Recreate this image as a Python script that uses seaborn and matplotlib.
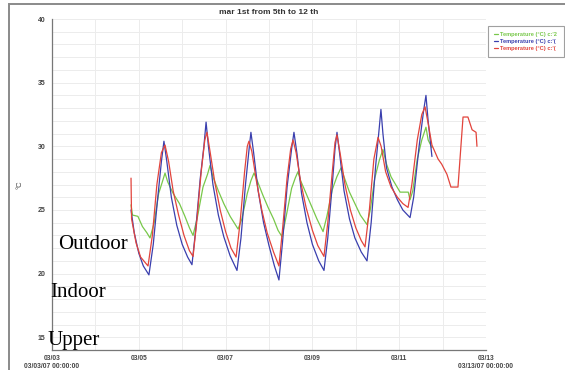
import numpy as np
import pandas as pd
import matplotlib
matplotlib.use("Agg")
import matplotlib.pyplot as plt
from matplotlib.patches import Rectangle
from matplotlib.ticker import MultipleLocator, FixedLocator, FixedFormatter
from matplotlib.lines import Line2D
import seaborn as sns

# Hours since 03/03 00:00 and temperature readings (°C) for each logger
green_hours = [43.7, 44.5, 47.5, 50.0, 52.5, 54.2, 56.5, 59.0, 61.0, 62.5, 64.0, 67.0, 70.5, 73.5,
               76.0, 78.0, 80.5, 83.5, 86.0, 87.4, 89.0, 92.0, 95.0, 98.5, 102.9, 105.0, 108.0,
               110.0, 111.7, 113.5, 116.5, 119.5, 122.5, 125.0, 127.2, 129.5, 132.5, 134.5,
               136.0, 137.5, 140.5, 143.5, 146.5, 149.9, 152.0, 155.0, 157.5, 159.8, 161.5,
               164.5, 167.5, 170.5, 174.2, 176.0, 178.5, 181.0, 183.0, 185.0, 187.5, 190.0,
               192.5, 197.0, 198.0, 199.5, 202.0, 204.5, 206.8, 208.0, 210.1]
green_temp = [25.4, 24.6, 24.5, 23.7, 23.2, 22.8, 24.0, 26.3, 27.2, 27.9, 27.2, 26.3, 25.5, 24.5,
              23.6, 23.0, 24.5, 26.8, 27.8, 28.5, 27.6, 26.5, 25.5, 24.5, 23.5, 24.3, 26.3,
              27.3, 27.9, 27.3, 26.2, 25.2, 24.3, 23.4, 22.9, 24.5, 26.7, 27.5,
              28.0, 27.3, 26.3, 25.3, 24.3, 23.3, 24.5, 26.6, 27.6, 28.3, 27.6,
              26.4, 25.5, 24.6, 23.85, 25.0, 27.5, 28.9, 29.75, 28.6, 27.6, 27.0,
              26.4, 26.4, 25.8, 26.5, 29.0, 30.5, 31.5, 30.5, 29.9]

blue_hours = [43.7, 45.5, 48.0, 50.5, 53.6, 56.0, 58.5, 60.5, 61.9, 63.5, 66.0, 69.0, 72.0, 75.0,
              77.4, 79.5, 82.0, 84.0, 85.2, 86.5, 89.0, 92.0, 95.0, 98.5, 102.3, 104.5, 107.0,
              109.0, 110.0, 111.5, 114.0, 117.0, 120.0, 123.0, 125.5, 127.5, 130.0, 132.5,
              133.8, 135.5, 138.0, 141.0, 144.0, 147.5, 150.4, 152.5, 155.0, 156.5, 157.6,
              159.0, 161.5, 164.5, 167.5, 171.0, 174.2, 176.5, 179.0, 181.0, 181.9, 183.0,
              185.0, 188.0, 191.0, 194.0, 198.0, 200.0, 203.0, 205.5, 206.8, 208.0, 210.1]
blue_temp = [25.0, 23.2, 21.6, 20.6, 19.9, 22.3, 26.0, 28.8, 30.4, 28.8, 26.0, 23.8, 22.3, 21.3,
             20.7, 23.5, 27.5, 30.0, 31.9, 30.0, 27.0, 24.6, 22.9, 21.4, 20.25, 22.8, 27.0,
             29.8, 31.1, 29.5, 26.5, 24.0, 22.2, 20.6, 19.5, 22.5, 26.8, 29.8,
             31.1, 29.4, 26.3, 24.0, 22.3, 21.0, 20.25, 22.8, 27.0, 29.8, 31.1,
             29.5, 26.5, 24.3, 22.8, 21.7, 21.0, 24.0, 28.5, 31.5, 32.9, 31.0,
             28.3, 26.8, 25.8, 25.0, 24.4, 26.0, 30.0, 32.8, 34.0, 32.0, 29.2]

red_hours = [43.7, 44.0, 46.5, 49.0, 53.1, 55.5, 58.0, 60.5, 62.5, 64.5, 67.0, 70.0, 73.0, 76.0,
             78.0, 80.0, 82.5, 84.5, 85.7, 87.5, 90.0, 93.0, 96.0, 99.0, 101.8, 104.0, 106.5,
             108.0, 108.9, 110.5, 113.0, 116.0, 119.0, 122.5, 125.5, 127.5, 130.0, 132.0,
             133.3, 135.0, 137.5, 140.5, 144.0, 147.0, 150.4, 152.5, 155.0, 156.5, 157.6,
             159.5, 162.0, 165.0, 168.0, 171.0, 173.1, 175.5, 178.0, 180.3, 182.0, 184.5,
             187.5, 191.0, 194.0, 196.9, 199.0, 202.0, 204.5, 206.3, 208.0, 210.1, 213.5,
             215.5, 218.4, 220.6, 224.5, 227.3, 230.0, 232.3, 234.5, 235.0]
red_temp = [27.5, 24.3, 22.4, 21.3, 20.6, 23.0, 27.0, 29.5, 30.1, 28.8, 26.5, 24.6, 23.0, 21.8,
            21.35, 24.0, 28.0, 30.5, 31.1, 29.5, 27.2, 25.0, 23.3, 22.0, 21.3, 24.0, 28.0,
            30.0, 30.4, 29.6, 27.3, 25.0, 23.2, 21.7, 20.6, 23.5, 27.5, 29.8,
            30.5, 29.5, 27.2, 25.2, 23.4, 22.2, 21.35, 24.0, 28.0, 30.3, 30.9,
            29.3, 27.0, 25.0, 23.6, 22.6, 22.1, 25.0, 29.0, 30.7, 30.0, 28.0,
            26.8, 26.0, 25.5, 25.2, 27.0, 30.5, 32.5, 33.1, 31.8, 30.1, 29.0,
            28.6, 27.8, 26.8, 26.8, 32.3, 32.3, 31.3, 31.1, 30.0]

series_names = ["Temperature (°C) c:'2", "Temperature (°C) c:'(", "Temperature (°C) c:'( "]
series_colors = ["#78c84a", "#3a3fae", "#e2443c"]

tick_hours = [0, 48, 96, 144, 192, 240]
tick_labels = ["03/03\n03/03/07 00:00:00", "03/05", "03/07", "03/09", "03/11",
               "03/13\n03/13/07 00:00:00"]

frames = []
for name, hrs, vals in zip(series_names,
                           [green_hours, blue_hours, red_hours],
                           [green_temp, blue_temp, red_temp]):
    frames.append(pd.DataFrame({"hour": hrs, "temp": vals, "sensor": name}))
df = pd.concat(frames, ignore_index=True)

sns.set_style("white")
plt.rcParams["font.family"] = ["Liberation Sans", "DejaVu Sans"]

fig = plt.figure(figsize=(5.65, 3.70), dpi=100)
ax = fig.add_axes([52 / 565, 1 - 350 / 370, 434 / 565, 331 / 370])

sns.lineplot(data=df, x="hour", y="temp", hue="sensor", palette=dict(zip(series_names, series_colors)),
             hue_order=series_names, estimator=None, sort=False, linewidth=0.9,
             legend=False, ax=ax)

ax.set_xlim(0, 240)
ax.set_ylim(14, 40)

# grid: one line per day and per degree
ax.xaxis.set_major_locator(FixedLocator(tick_hours))
ax.xaxis.set_major_formatter(FixedFormatter(tick_labels))
ax.xaxis.set_minor_locator(MultipleLocator(24))
ax.yaxis.set_major_locator(MultipleLocator(5))
ax.yaxis.set_minor_locator(MultipleLocator(1))
ax.grid(True, which="both", color="#ececec", linewidth=0.7)
ax.set_axisbelow(True)

for side in ["top", "right"]:
    ax.spines[side].set_visible(False)
for side in ["left", "bottom"]:
    ax.spines[side].set_color("#777777")
    ax.spines[side].set_linewidth(0.9)

ax.tick_params(axis="both", which="major", direction="out", length=3, width=0.7,
               color="#777777", labelsize=5, labelcolor="#444444", pad=1.5)
ax.tick_params(axis="x", which="major", labelsize=4.8, pad=0.8)
ax.tick_params(axis="both", which="minor", direction="out", length=2, width=0.6,
               color="#777777")
for lbl in ax.get_xticklabels() + ax.get_yticklabels():
    lbl.set_fontweight("bold")
for lbl in ax.get_xticklabels():
    lbl.set_linespacing(1.05)

ax.set_xlabel("")
ax.set_ylabel("")
fig.text(20 / 565, 1 - 185 / 370, "°C", rotation=90, fontsize=5.5, color="#444444",
         ha="center", va="center")
fig.text(269 / 565, 1 - 13 / 370, "mar 1st from 5th to 12 th", fontsize=6,
         fontweight="bold", color="#333333", ha="center", va="center")

handles = [Line2D([], [], color=c, linewidth=0.9) for c in series_colors]
leg = ax.legend(handles, series_names, loc="upper left", bbox_to_anchor=(1.005, 0.979),
                borderaxespad=0, fontsize=4.1, frameon=True, fancybox=False,
                handlelength=0.7, handletextpad=0.3, labelspacing=0.35,
                borderpad=1.1, edgecolor="#888888")
leg.get_frame().set_linewidth(0.8)
for txt, c in zip(leg.get_texts(), series_colors):
    txt.set_color(c)
    txt.set_fontweight("bold")

# outer frame of the chart panel
fig.patches.append(Rectangle((9 / 565, -0.2), 1.2, 1 - 4 / 370 + 0.2,
                             transform=fig.transFigure, fill=False,
                             edgecolor="#8a8a8a", linewidth=1.4))

for label, ypx, xpx in [("Outdoor", 249, 58), ("Indoor", 297, 50), ("Upper", 345, 47)]:
    fig.text(xpx / 565, 1 - ypx / 370, label, fontsize=15, family="Liberation Serif",
             color="black", ha="left", va="baseline")

fig.savefig("out.png", dpi=100)
